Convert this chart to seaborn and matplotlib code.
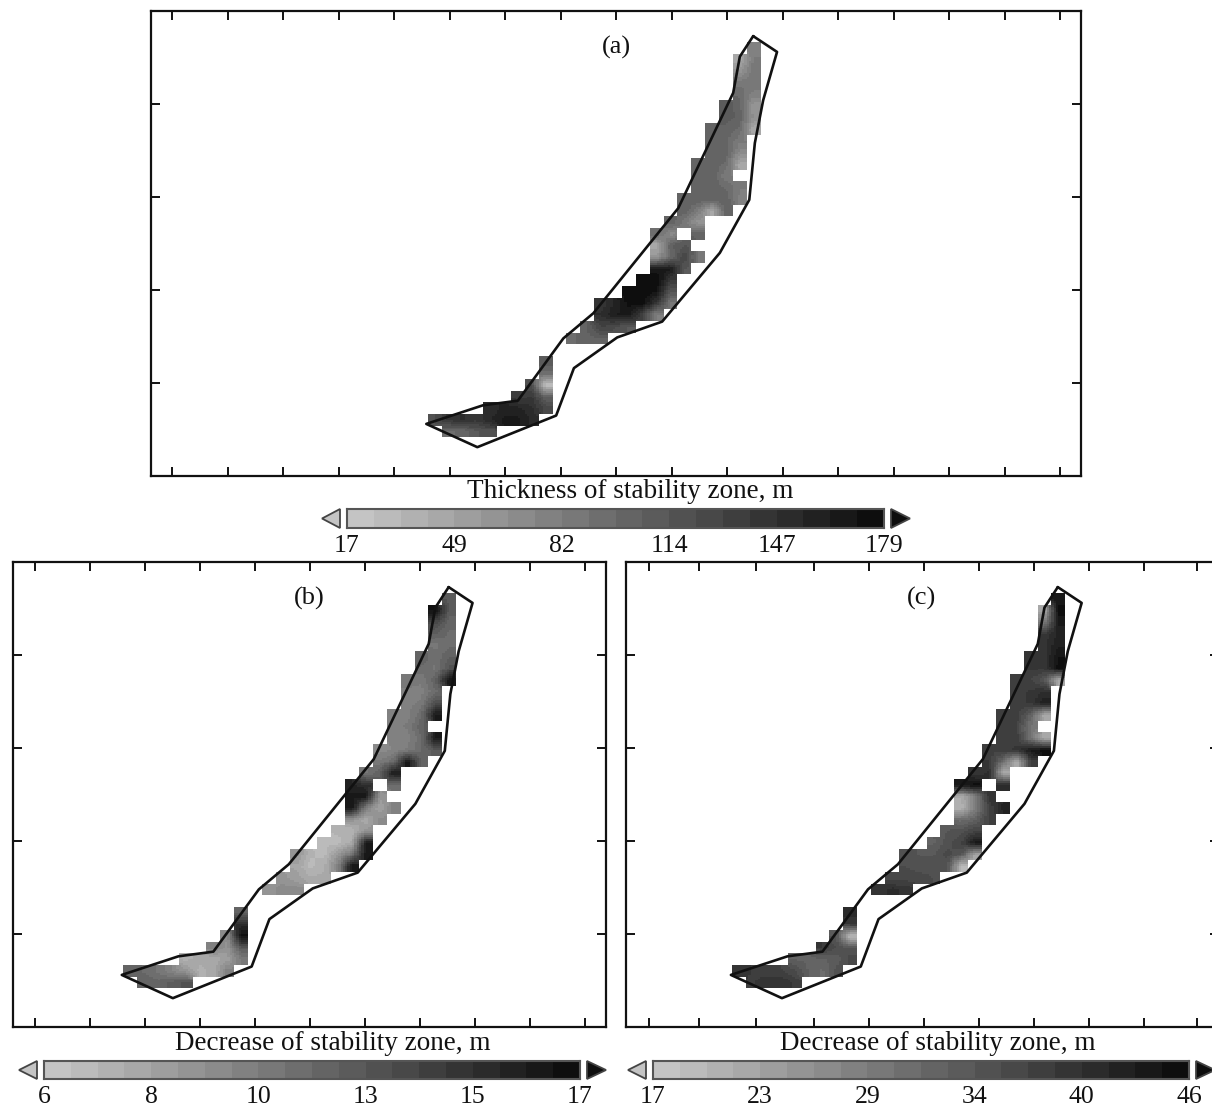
import numpy as np
import pandas as pd
import matplotlib
matplotlib.use("Agg")
import matplotlib.pyplot as plt
from matplotlib.colors import ListedColormap
from matplotlib.patches import Polygon
import seaborn as sns

W, H = 1212, 1111

# columns occupied on each grid row (north to south)
row_cols = [[23], [22, 23], [22, 23], [22, 23], [22, 23], [21, 22, 23], [21, 22, 23],
            [20, 21, 22, 23], [20, 21, 22], [20, 21, 22], [19, 20, 21, 22], [19, 20, 21],
            [19, 20, 21, 22], [18, 19, 20, 21, 22], [18, 19, 20, 21], [17, 18, 19],
            [16, 17, 19], [16, 17, 18], [16, 17, 18, 19], [16, 17, 18], [15, 16, 17],
            [14, 15, 16, 17], [12, 13, 14, 15, 16, 17], [12, 13, 14, 15, 16],
            [11, 12, 13, 14], [10, 11, 12], [], [8], [8], [7, 8], [6, 7, 8],
            [4, 5, 6, 7, 8], [0, 1, 2, 3, 4, 5, 6, 7], [1, 2, 3, 4]]

thickness_a = [[78], [43, 83], [61, 87], [87, 90], [96, 78], [113, 100, 61], [109, 105, 63],
               [105, 105, 96, 43], [100, 100, 83], [105, 105, 70], [105, 105, 96, 43],
               [105, 105, 83], [105, 105, 96, 83], [105, 105, 105, 105, 78], [105, 83, 43, 105],
               [105, 87, 61], [96, 70, 105], [43, 105, 113], [61, 96, 131, 87], [166, 166, 113],
               [179, 179, 140], [175, 179, 170, 113], [140, 157, 175, 175, 140, 87],
               [148, 162, 166, 131, 78], [105, 131, 122, 113], [96, 105, 105], [], [113], [96],
               [122, 26], [131, 140, 105], [148, 157, 157, 148, 127],
               [122, 140, 148, 140, 153, 166, 166, 153], [96, 100, 113, 118]]

decrease_b = [[12.5], [16.7, 12.5], [13.5, 11.7], [12.0, 11.4], [10.8, 11.4], [12, 11.1, 12],
              [11.4, 10.8, 12.8], [10.8, 10.5, 12, 16.4], [10.2, 10.2, 11.4], [10.2, 10.5, 13.1],
              [10.2, 10.2, 11.4, 16.1], [10.2, 10.5, 12], [9.9, 10.2, 11.4, 16.1],
              [9.6, 9.9, 10.5, 11.4, 12.5], [10.5, 11.4, 16.4, 12], [10.8, 12, 16.1],
              [15.5, 14.9, 11.4], [16.1, 16.4, 9], [16.4, 10.2, 8.1, 10.2], [9, 7.8, 9.6],
              [7.2, 7.2, 9], [6.9, 6.9, 7.8, 16.1], [9, 7.2, 6.9, 9, 11, 16.4],
              [8.1, 6.9, 7.5, 10.2, 16.4], [9, 8.4, 7.8, 7.8], [9, 9.6, 9.6], [], [12], [14.9],
              [9.6, 16.7], [10.2, 9, 12.5], [7.5, 7.8, 7.8, 8.4, 10.5],
              [12, 11.4, 10.8, 9.9, 9, 7.5, 7.8, 10.2], [12, 11.7, 12.2, 12.8]]

decrease_c = [[43.7], [21.7, 45.3], [28, 43.7], [39, 42.1], [39.8, 42.9], [39, 39.8, 44.5],
              [39, 39, 45.3], [37.4, 37.4, 34.3, 21.7], [38.2, 39, 40.6], [38.2, 39, 42.9],
              [38.2, 38.2, 32.7, 21.7], [38.2, 37.4, 29.6], [38.2, 38.2, 29.6, 21.7],
              [37.4, 38.2, 39, 43.7, 45.3], [39, 31.1, 20.9, 37.4], [39, 40.6, 21.7],
              [43.7, 45.3, 40.6], [21.7, 28, 39.8], [20.1, 28, 37.4, 42.1], [31.1, 32.7, 37.4],
              [34.3, 35, 37.4], [32.7, 35, 37.4, 43.7], [35, 34.3, 34.3, 36.6, 34.3, 21.7],
              [35.8, 35, 35, 35, 19.4], [36.6, 36.6, 36.6, 35.8], [39, 40.6, 39.8], [], [40.6],
              [39], [34.3, 18.6], [39, 35.8, 34.3], [32.7, 32.7, 32.7, 33.5, 36.6],
              [40, 38.5, 37.5, 37.5, 36, 32.7, 31.1, 35], [38.5, 40, 40, 38.5]]

outline_lon = [109.47, 109.90, 109.65, 109.50, 109.40, 108.87, 107.83, 107.02, 106.24, 105.92,
               104.50, 103.58, 104.60, 105.23, 106.05, 106.59, 108.12, 109.11, 109.23, 109.47]
outline_lat = [55.73, 55.56, 55.04, 54.58, 53.97, 53.40, 52.66, 52.49, 52.16, 51.65,
               51.31, 51.56, 51.76, 51.81, 52.48, 52.75, 53.88, 55.12, 55.51, 55.73]

ticks_a = [99, 100, 101, 102, 103, 104, 105, 106, 107, 108, 109, 110, 111, 112, 113, 114, 115]
ticks_b = [102.02, 103.01, 104.0, 104.99, 105.98, 106.97, 107.96, 108.95, 109.94, 110.93, 111.92]
ticks_c = [102.10, 103.0, 104.03, 105.08, 106.07, 107.06, 108.05, 109.04, 110.03, 111.02, 111.97]
ticks_lat = [52, 53, 54, 55]

labels_a = ["17", "49", "82", "114", "147", "179"]
labels_b = ["6", "8", "10", "13", "15", "17"]
labels_c = ["17", "23", "29", "34", "40", "46"]
range_a = (17, 179)
range_b = (6, 17)
range_c = (17, 46)
bar_title_a = "Thickness of stability zone, m"
bar_title_bc = "Decrease of stability zone, m"

sns.set_theme(style="white")
plt.rcParams["font.family"] = ["Liberation Serif", "DejaVu Serif"]
TXT = "#111111"

LON0, LAT0, DLON, DLAT, SUB = 103.605, 55.667, 0.25, 0.125, 6
NROW, NCOL = len(row_cols), 24
grays = np.linspace(0.77, 0.055, 20)
cmap = ListedColormap([(g, g, g) for g in grays])

fig = plt.figure(figsize=(W / 100, H / 100), dpi=100, facecolor="white")


def px_axes(l, t, r, b):
    return fig.add_axes([l / W, 1 - b / H, (r - l) / W, (b - t) / H])


def to_grid(vals):
    g = np.full((NROW, NCOL), np.nan)
    for i, (cols, row) in enumerate(zip(row_cols, vals)):
        for c, v in zip(cols, row):
            g[i, c] = v
    return g


def smooth(g):
    """bilinear resampling of the grid cells, keeping the blocky cell mask"""
    ny, nx = g.shape
    yy = (np.arange(ny * SUB) + 0.5) / SUB - 0.5
    xx = (np.arange(nx * SUB) + 0.5) / SUB - 0.5
    y0 = np.clip(np.floor(yy).astype(int), 0, ny - 2)
    x0 = np.clip(np.floor(xx).astype(int), 0, nx - 2)
    ty = np.clip(yy - y0, 0, 1)[:, None]
    tx = np.clip(xx - x0, 0, 1)[None, :]
    ok = ~np.isnan(g)
    f = np.where(ok, g, 0.0)
    w = ok.astype(float)

    def sample(a):
        return (a[y0][:, x0] * (1 - ty) * (1 - tx) + a[y0][:, x0 + 1] * (1 - ty) * tx
                + a[y0 + 1][:, x0] * ty * (1 - tx) + a[y0 + 1][:, x0 + 1] * ty * tx)

    num, den = sample(f), sample(w)
    out = np.where(den > 0, num / np.maximum(den, 1e-9), np.nan)
    mask = ~np.repeat(np.repeat(ok, SUB, axis=0), SUB, axis=1)
    return out, mask


def fx(lon):
    return (np.asarray(lon) - LON0) / (DLON / SUB)


def fy(lat):
    return (LAT0 - np.asarray(lat)) / (DLAT / SUB)


def panel(box, vals, vrange, lon_left, ticks, tag, tag_xy):
    ax = px_axes(*box)
    data, mask = smooth(to_grid(vals))
    sns.heatmap(pd.DataFrame(data), mask=mask, cmap=cmap, vmin=vrange[0], vmax=vrange[1],
                cbar=False, xticklabels=False, yticklabels=False, ax=ax)
    ax.plot(fx(outline_lon), fy(outline_lat), color="#111111", lw=1.9, solid_joinstyle="round")
    lon_right = lon_left + (box[2] - box[0]) / 55.5
    ax.set_xlim(fx(lon_left), fx(lon_right))
    ax.set_ylim(fy(51.0), fy(56.0))
    ax.set_xticks(fx(ticks))
    ax.set_yticks(fy(ticks_lat))
    ax.tick_params(direction="in", length=6.5, width=1.4, color="#111111", top=True, bottom=True,
                   left=True, right=True, labelbottom=False, labelleft=False)
    for s in ax.spines.values():
        s.set_visible(True)
        s.set_color("#111111")
        s.set_linewidth(1.6)
    fig.text(tag_xy[0] / W, 1 - tag_xy[1] / H, tag, ha="center", va="center", fontsize=19, color=TXT)
    return ax


def colorbar(box, vrange, labels, title, title_xy):
    cax = px_axes(*box)
    edges = np.linspace(vrange[0], vrange[1], 21)
    centers = 0.5 * (edges[:-1] + edges[1:])
    sns.heatmap(pd.DataFrame([centers]), cmap=cmap, vmin=vrange[0], vmax=vrange[1], cbar=False,
                xticklabels=False, yticklabels=False, ax=cax)
    cax.set_xticks(np.linspace(0, 20, len(labels)))
    cax.set_xticklabels(labels, fontsize=18.5, color=TXT)
    cax.tick_params(axis="x", direction="in", length=7.5, width=1.1, color="#222222", pad=5, bottom=True)
    for s in cax.spines.values():
        s.set_visible(True)
        s.set_color("#555555")
        s.set_linewidth(1.5)
    l, t, r, b = box
    m = (t + b) / 2
    for pts, face in (([(l - 7, t), (l - 7, b), (l - 25, m)], cmap(0)),
                      ([(r + 7, t), (r + 7, b), (r + 26, m)], cmap(19))):
        fig.add_artist(Polygon([(x / W, 1 - y / H) for x, y in pts], closed=True, facecolor=face,
                               edgecolor="#444444", linewidth=1.3, transform=fig.transFigure))
    fig.text(title_xy[0] / W, 1 - title_xy[1] / H, title, ha="center", va="center",
             fontsize=19.5, color=TXT)


panel((151, 11, 1081, 476), thickness_a, range_a, 98.62, ticks_a, "(a)", (616, 47))
panel((13, 562, 606, 1027), decrease_b, range_b, 101.62, ticks_b, "(b)", (309, 598))
panel((626, 562, 1219, 1027), decrease_c, range_c, 101.69, ticks_c, "(c)", (921, 598))

colorbar((347, 509, 884, 528), range_a, labels_a, bar_title_a, (630, 492))
colorbar((44, 1061, 580, 1079), range_b, labels_b, bar_title_bc, (333, 1044))
colorbar((653, 1061, 1189, 1079), range_c, labels_c, bar_title_bc, (938, 1044))

fig.savefig("out.png", dpi=100, facecolor="white")
